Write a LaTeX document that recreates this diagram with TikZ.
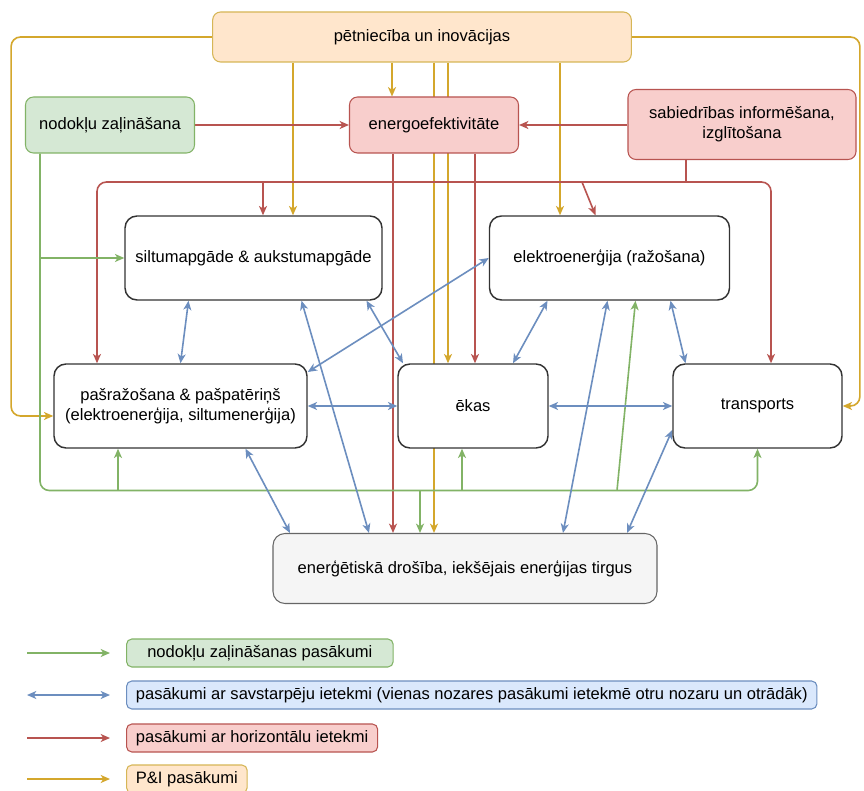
\documentclass[tikz,border=0pt]{standalone}
\usepackage{fontspec}
\setmainfont{Liberation Sans}
\usetikzlibrary{arrows.meta,calc,backgrounds}

\definecolor{grnline}{HTML}{82B366}
\definecolor{grnfill}{HTML}{D5E8D4}
\definecolor{blueline}{HTML}{6C8EBF}
\definecolor{bluefill}{HTML}{DAE8FC}
\definecolor{redline}{HTML}{B85450}
\definecolor{redfill}{HTML}{F8CECC}
\definecolor{piline}{HTML}{D4A72C}
\definecolor{piedge}{HTML}{D6B656}
\definecolor{pifill}{HTML}{FFE6CC}

\begin{document}
\begin{tikzpicture}[
      x=0.75pt, y=-0.75pt,
      font=\fontsize{12.4}{15}\selectfont,
      >={Stealth[length=7pt,width=6pt,inset=2pt]},
      sector/.style={draw=black!80, line width=1.1pt, fill=white, rounded corners=9pt, align=center, minimum height=63pt},
      measure/.style={line width=0.8pt, rounded corners=6pt, align=center},
      greenbox/.style={measure, draw=grnline, fill=grnfill},
      redbox/.style={measure, draw=redline, fill=redfill},
      pibox/.style={measure, draw=piedge, fill=pifill},
      legendbox/.style={line width=0.8pt, rounded corners=4pt, anchor=west, inner xsep=7pt, minimum height=21pt},
      taxarrow/.style={grnline, line width=1.2pt, ->},
      mutarrow/.style={blueline, line width=1.2pt, <->},
      horarrow/.style={redline, line width=1.2pt, ->},
      piarrow/.style={piline, line width=1.2pt, ->}
  ]
    \useasboundingbox (0,0) rectangle (864,791);

    % measures
    \node[pibox, minimum width=314pt, minimum height=37.5pt] (res) at (422,37) {pētniecība un inovācijas};
    \node[greenbox, minimum width=126.75pt, minimum height=42pt] (tax) at (110,125) {nodokļu zaļināšana};
    \node[redbox, minimum width=126.75pt, minimum height=42pt] (eff) at (434,125) {energoefektivitāte};
    \node[redbox, minimum width=171pt, minimum height=52.5pt] (soc) at (742,124.5) {sabiedrības informēšana,\\izglītošana};

    % sectors
    \node[sector, minimum width=192.75pt] (heat) at (253.5,258) {siltumapgāde \& aukstumapgāde};
    \node[sector, minimum width=180pt] (elec) at (609.5,258) {elektroenerģija (ražošana)};
    \node[sector, minimum width=189.75pt] (self) at (180.5,406) {pašražošana \& pašpatēriņš\\(elektroenerģija, siltumenerģija)};
    \node[sector, minimum width=112.5pt] (bld) at (473,406) {ēkas};
    \node[sector, minimum width=126.75pt] (trn) at (757.5,406) {transports};
    \node[sector, draw=black!60, fill=black!4, line width=0.8pt, minimum width=288pt, minimum height=52.5pt] (sec) at (465,568.5) {enerģētiskā drošība, iekšējais enerģijas tirgus};

    \begin{scope}[on background layer]
      \fill[white] (0,0) rectangle (864,791);

      % P&I
      \draw[piarrow, rounded corners=7pt] (res.west) -- ++(-201,0) |- ($(self.west)+(0,10)$);
      \draw[piarrow, rounded corners=7pt] (res.east) -- ++(228,0) |- (trn.east);
      \coordinate (p1) at ($(heat.north)+(39.5,0)$);
      \coordinate (p2) at ($(eff.north)+(-42,0)$);
      \coordinate (p3) at ($(sec.north)+(-31,0)$);
      \coordinate (p4) at ($(bld.north)+(-25,0)$);
      \coordinate (p5) at ($(elec.north)+(-49.5,0)$);
      \foreach \c in {p1,p2,p3,p4,p5}
        \draw[piarrow] (res.south -| \c) -- (\c);

      % horizontal
      \draw[horarrow] (tax.east) -- (eff.west);
      \draw[horarrow] (soc.west |- eff.east) -- (eff.east);
      \coordinate (r1) at ($(sec.north)+(-72,0)$);
      \coordinate (r2) at ($(bld.north)+(2,0)$);
      \foreach \c in {r1,r2}
        \draw[horarrow] (eff.south -| \c) -- (\c);
      \coordinate (rbus) at ($(soc.south)+(-56,22)$);
      \draw[redline, line width=1.2pt] (soc.south -| rbus) -- (rbus);
      \draw[horarrow, rounded corners=7pt] (rbus) -| ($(self.north)+(-83.5,0)$);
      \draw[horarrow, rounded corners=7pt] (rbus) -| ($(trn.north)+(13.5,0)$);
      \coordinate (r3) at ($(heat.north)+(9.5,0)$);
      \draw[horarrow] (rbus -| r3) -- (r3);
      \draw[horarrow] ($(rbus)+(-104,0)$) -- ($(elec.north)+(-14,0)$);

      % tax greening
      \coordinate (gbus) at ($(tax.south)+(-70,337)$);
      \draw[taxarrow, rounded corners=7pt] (tax.south -| gbus) -- (gbus) -| (trn.south);
      \draw[taxarrow] (heat.west -| gbus) -- (heat.west);
      \coordinate (g1) at ($(self.south)+(-62.5,0)$);
      \coordinate (g2) at ($(bld.south)+(-11,0)$);
      \foreach \c in {g1,g2}
        \draw[taxarrow] (gbus -| \c) -- (\c);
      \coordinate (g3) at ($(sec.north)+(-45,0)$);
      \draw[taxarrow] (gbus -| g3) -- (g3);
      \draw[taxarrow] ($(gbus)+(577,0)$) -- ($(elec.south)+(26,0)$);

      % mutual
      \draw[mutarrow] ($(heat.south)+(-65,0)$) -- (self.north);
      \draw[mutarrow] ($(heat.south)+(113,0)$) -- ($(bld.north)+(-70,0)$);
      \draw[mutarrow] ($(heat.south)+(48,0)$) -- ($(sec.north)+(-96,0)$);
      \draw[mutarrow] ($(self.south)+(65,0)$) -- ($(sec.north)+(-175,0)$);
      \draw[mutarrow] (elec.west) -- ($(self.east)+(0,-34)$);
      \draw[mutarrow] ($(elec.south)+(-62,0)$) -- ($(bld.north)+(40,0)$);
      \draw[mutarrow] ($(elec.south)+(-2,0)$) -- ($(sec.north)+(98,0)$);
      \draw[mutarrow] ($(elec.south)+(61,0)$) -- ($(trn.north)+(-72,0)$);
      \draw[mutarrow] ($(trn.west)+(0,24)$) -- ($(sec.north)+(162,0)$);
      \draw[mutarrow] (self.east) -- (bld.west);
      \draw[mutarrow] (bld.east) -- (trn.west);
    \end{scope}

    % legend
    \node[legendbox, draw=grnline, fill=grnfill, minimum width=200pt] (lg1) at (126,653) {nodokļu zaļināšanas pasākumi};
    \node[legendbox, draw=blueline, fill=bluefill] (lg2) at (126,695) {pasākumi ar savstarpēju ietekmi (vienas nozares pasākumi ietekmē otru nozaru un otrādāk)};
    \node[legendbox, draw=redline, fill=redfill] (lg3) at (126,738) {pasākumi ar horizontālu ietekmi};
    \node[legendbox, draw=piedge, fill=pifill] (lg4) at (126,779) {P\&I pasākumi};
    \draw[taxarrow] ($(lg1.west)+(-99,0)$) -- ($(lg1.west)+(-16,0)$);
    \draw[mutarrow] ($(lg2.west)+(-99,0)$) -- ($(lg2.west)+(-16,0)$);
    \draw[horarrow] ($(lg3.west)+(-99,0)$) -- ($(lg3.west)+(-16,0)$);
    \draw[piarrow] ($(lg4.west)+(-99,0)$) -- ($(lg4.west)+(-16,0)$);
\end{tikzpicture}
\end{document}
